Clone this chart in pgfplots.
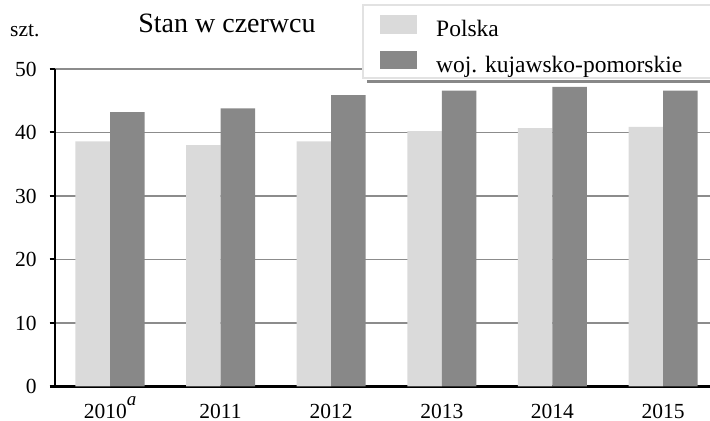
\documentclass[border=0pt]{standalone}
\usepackage{pgfplots}
\pgfplotsset{compat=1.18}
\usepackage{fontspec}
\setmainfont{Liberation Serif}

\definecolor{barlight}{HTML}{DADADA}
\definecolor{bardark}{HTML}{888888}
\definecolor{gridgray}{HTML}{8C8C8C}
\definecolor{boxborder}{HTML}{E2E2E2}

\begin{document}
\begin{tikzpicture}
\useasboundingbox (0,0) rectangle (710bp,421bp);
\clip (0,0) rectangle (710bp,421bp);
\begin{axis}[
  at={(54.7bp,34.5bp)}, anchor=south west,
  scale only axis,
  width=663.6bp, height=317.5bp,
  ybar=0pt, bar width=34.5bp,
  xmin=-0.5, xmax=5.5,
  ymin=0, ymax=50,
  xtick={0,1,2,3,4,5},
  xticklabels={2010\raisebox{13bp}{\fontsize{19bp}{20bp}\selectfont\itshape a},2011,2012,2013,2014,2015},
  ytick={0,10,20,30,40,50},
  axis x line=bottom, axis y line=left,
  axis line style={black, line width=2bp, -},
  major x tick style={draw=none},
  major y tick style={black, line width=2bp},
  tick align=outside, major tick length=5bp,
  ymajorgrids, major grid style={gridgray, line width=1.5bp},
  tick label style={font=\fontsize{21.5bp}{24bp}\selectfont, inner sep=0pt},
  /pgf/number format/assume math mode=true,
  xticklabel style={anchor=base, yshift=-26.5bp},
  yticklabel style={anchor=east, xshift=-13bp},
  clip=false,
  legend style={at={(axis description cs:0.4902,1.17)}, anchor=north west,
    draw=none, fill=none, inner sep=0pt, row sep=9bp, column sep=0pt,
    font=\fontsize{23.5bp}{26bp}\selectfont,
    nodes={inner sep=0pt, text height=17bp, text depth=5bp}},
  legend cell align=left,
  legend image code/.code={\fill[#1] (0bp,-3bp) rectangle (37bp,15.5bp);},
  every axis plot/.append style={draw=none},
]
\addplot+[fill=barlight, legend image post style={fill=barlight}] coordinates
  {(0,38.6) (1,38.0) (2,38.6) (3,40.2) (4,40.7) (5,40.9)};
\addplot+[fill=bardark, legend image post style={fill=bardark}] coordinates
  {(0,43.2) (1,43.8) (2,45.9) (3,46.6) (4,47.2) (5,46.6)};
% framed legend panel with a grey underline
\fill[white] (axis description cs:0.4646,1.2016) rectangle (axis description cs:1.06,0.9717);
\draw[boxborder, line width=2bp] (axis description cs:1.06,0.9717) -- (axis description cs:0.4646,0.9717)
  -- (axis description cs:0.4646,1.2016) -- (axis description cs:1.06,1.2016);
\draw[bardark, line width=3bp] (axis description cs:0.4706,0.9606) -- (axis description cs:1.06,0.9606);
\legend{\hspace{19bp}Polska, \hspace{19bp}woj. kujawsko-pomorskie}
\end{axis}
\node[anchor=base, inner sep=0pt, font=\fontsize{28bp}{32bp}\selectfont] at (227bp,388.7bp) {Stan w czerwcu};
\node[anchor=base west, inner sep=0pt, font=\fontsize{21.5bp}{24bp}\selectfont] at (10bp,384.3bp) {szt.};
\end{tikzpicture}
\end{document}
